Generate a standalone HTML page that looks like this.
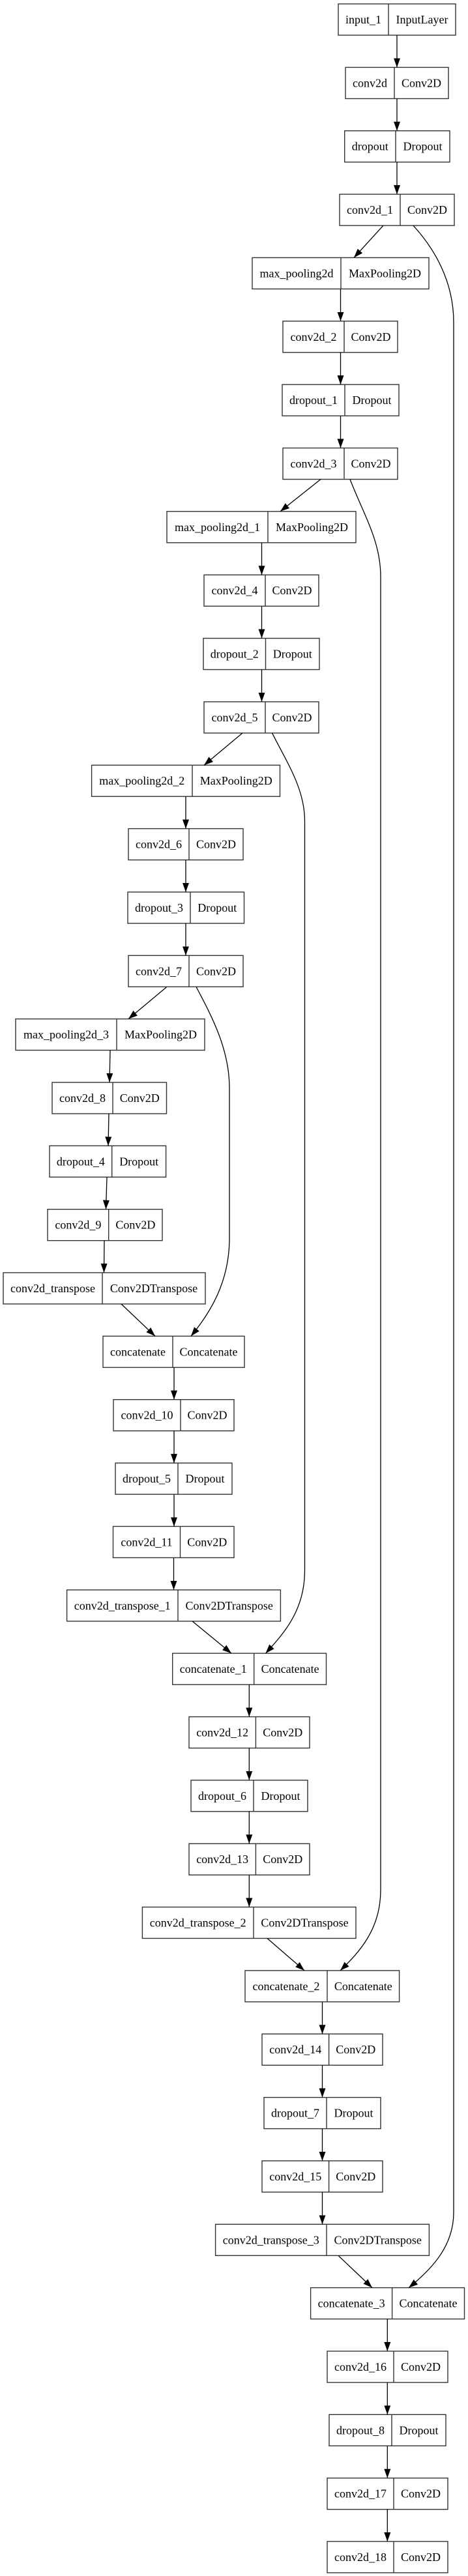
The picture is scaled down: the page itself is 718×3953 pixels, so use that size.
<!DOCTYPE html>
<html><head><meta charset="utf-8"><style>
html,body{margin:0;padding:0;background:#fff;}
svg{display:block;}
text{font-family:"Liberation Serif",serif;font-size:18px;fill:#000;text-anchor:middle;}
.b{fill:none;stroke:#333;stroke-width:1.4;}
.e{fill:none;stroke:#000;stroke-width:1.3;}
</style></head><body>
<svg width="718" height="3953" viewBox="0 0 718 3953" xmlns="http://www.w3.org/2000/svg">
<defs><marker id="a" markerUnits="userSpaceOnUse" markerWidth="14" markerHeight="10" refX="14" refY="5" orient="auto"><path d="M0,0 L14,5 L0,10 z" fill="#000"/></marker></defs>
<g class="nodes">
<rect class="b" x="519" y="6" width="180" height="48"/><line class="b" x1="596" y1="6" x2="596" y2="54"/><text x="557.5" y="36">input_1</text><text x="647.5" y="36">InputLayer</text>
<rect class="b" x="530" y="103.4" width="158" height="48"/><line class="b" x1="605" y1="103.4" x2="605" y2="151.4"/><text x="567.5" y="133.4">conv2d</text><text x="646.5" y="133.4">Conv2D</text>
<rect class="b" x="528.7" y="200.7" width="161.3" height="48"/><line class="b" x1="607" y1="200.7" x2="607" y2="248.7"/><text x="567.8" y="230.7">dropout</text><text x="648.5" y="230.7">Dropout</text>
<rect class="b" x="521" y="298.1" width="176" height="48"/><line class="b" x1="614" y1="298.1" x2="614" y2="346.1"/><text x="567.5" y="328.1">conv2d_1</text><text x="655.5" y="328.1">Conv2D</text>
<rect class="b" x="387" y="395.4" width="271" height="48"/><line class="b" x1="523" y1="395.4" x2="523" y2="443.4"/><text x="455" y="425.4">max_pooling2d</text><text x="590.5" y="425.4">MaxPooling2D</text>
<rect class="b" x="434" y="492.8" width="176" height="48"/><line class="b" x1="528" y1="492.8" x2="528" y2="540.8"/><text x="481" y="522.8">conv2d_2</text><text x="569" y="522.8">Conv2D</text>
<rect class="b" x="433" y="590.1" width="179" height="48"/><line class="b" x1="529" y1="590.1" x2="529" y2="638.1"/><text x="481" y="620.1">dropout_1</text><text x="570.5" y="620.1">Dropout</text>
<rect class="b" x="434" y="687.5" width="176" height="48"/><line class="b" x1="528" y1="687.5" x2="528" y2="735.5"/><text x="481" y="717.5">conv2d_3</text><text x="569" y="717.5">Conv2D</text>
<rect class="b" x="256" y="784.8" width="290" height="48"/><line class="b" x1="411" y1="784.8" x2="411" y2="832.8"/><text x="333.5" y="814.8">max_pooling2d_1</text><text x="478.5" y="814.8">MaxPooling2D</text>
<rect class="b" x="313" y="882.2" width="176" height="48"/><line class="b" x1="407" y1="882.2" x2="407" y2="930.2"/><text x="360" y="912.2">conv2d_4</text><text x="448" y="912.2">Conv2D</text>
<rect class="b" x="312" y="979.5" width="178" height="48"/><line class="b" x1="407.5" y1="979.5" x2="407.5" y2="1027.5"/><text x="359.8" y="1009.5">dropout_2</text><text x="448.8" y="1009.5">Dropout</text>
<rect class="b" x="313" y="1076.9" width="176" height="48"/><line class="b" x1="407" y1="1076.9" x2="407" y2="1124.9"/><text x="360" y="1106.9">conv2d_5</text><text x="448" y="1106.9">Conv2D</text>
<rect class="b" x="140.6" y="1174.2" width="288.9" height="48"/><line class="b" x1="295" y1="1174.2" x2="295" y2="1222.2"/><text x="217.8" y="1204.2">max_pooling2d_2</text><text x="362.3" y="1204.2">MaxPooling2D</text>
<rect class="b" x="197" y="1271.6" width="176" height="48"/><line class="b" x1="290" y1="1271.6" x2="290" y2="1319.6"/><text x="243.5" y="1301.6">conv2d_6</text><text x="331.5" y="1301.6">Conv2D</text>
<rect class="b" x="196" y="1368.9" width="178.5" height="48"/><line class="b" x1="292" y1="1368.9" x2="292" y2="1416.9"/><text x="244" y="1398.9">dropout_3</text><text x="333.3" y="1398.9">Dropout</text>
<rect class="b" x="197" y="1466.3" width="176" height="48"/><line class="b" x1="290" y1="1466.3" x2="290" y2="1514.3"/><text x="243.5" y="1496.3">conv2d_7</text><text x="331.5" y="1496.3">Conv2D</text>
<rect class="b" x="24" y="1563.6" width="290" height="48"/><line class="b" x1="179" y1="1563.6" x2="179" y2="1611.6"/><text x="101.5" y="1593.6">max_pooling2d_3</text><text x="246.5" y="1593.6">MaxPooling2D</text>
<rect class="b" x="80" y="1661" width="175.5" height="48"/><line class="b" x1="173" y1="1661" x2="173" y2="1709"/><text x="126.5" y="1691">conv2d_8</text><text x="214.3" y="1691">Conv2D</text>
<rect class="b" x="76" y="1758.3" width="178.6" height="48"/><line class="b" x1="171.7" y1="1758.3" x2="171.7" y2="1806.3"/><text x="123.9" y="1788.3">dropout_4</text><text x="213.2" y="1788.3">Dropout</text>
<rect class="b" x="73" y="1855.7" width="176" height="48"/><line class="b" x1="166.7" y1="1855.7" x2="166.7" y2="1903.7"/><text x="119.9" y="1885.7">conv2d_9</text><text x="207.9" y="1885.7">Conv2D</text>
<rect class="b" x="5" y="1953" width="310" height="48"/><line class="b" x1="157" y1="1953" x2="157" y2="2001"/><text x="81" y="1983">conv2d_transpose</text><text x="236" y="1983">Conv2DTranspose</text>
<rect class="b" x="158" y="2050.4" width="217" height="48"/><line class="b" x1="265" y1="2050.4" x2="265" y2="2098.4"/><text x="211.5" y="2080.4">concatenate</text><text x="320" y="2080.4">Concatenate</text>
<rect class="b" x="174" y="2147.7" width="185" height="48"/><line class="b" x1="277" y1="2147.7" x2="277" y2="2195.7"/><text x="225.5" y="2177.7">conv2d_10</text><text x="318" y="2177.7">Conv2D</text>
<rect class="b" x="177" y="2245.1" width="179" height="48"/><line class="b" x1="273" y1="2245.1" x2="273" y2="2293.1"/><text x="225" y="2275.1">dropout_5</text><text x="314.5" y="2275.1">Dropout</text>
<rect class="b" x="173.5" y="2342.4" width="185.5" height="48"/><line class="b" x1="276.5" y1="2342.4" x2="276.5" y2="2390.4"/><text x="225" y="2372.4">conv2d_11</text><text x="317.8" y="2372.4">Conv2D</text>
<rect class="b" x="102.6" y="2439.8" width="327.8" height="48"/><line class="b" x1="273" y1="2439.8" x2="273" y2="2487.8"/><text x="187.8" y="2469.8">conv2d_transpose_1</text><text x="351.7" y="2469.8">Conv2DTranspose</text>
<rect class="b" x="264.7" y="2537.1" width="235.8" height="48"/><line class="b" x1="389.7" y1="2537.1" x2="389.7" y2="2585.1"/><text x="327.2" y="2567.1">concatenate_1</text><text x="445.1" y="2567.1">Concatenate</text>
<rect class="b" x="290" y="2634.5" width="185" height="48"/><line class="b" x1="392.4" y1="2634.5" x2="392.4" y2="2682.5"/><text x="341.2" y="2664.5">conv2d_12</text><text x="433.7" y="2664.5">Conv2D</text>
<rect class="b" x="293" y="2731.8" width="179" height="48"/><line class="b" x1="389" y1="2731.8" x2="389" y2="2779.8"/><text x="341" y="2761.8">dropout_6</text><text x="430.5" y="2761.8">Dropout</text>
<rect class="b" x="290" y="2829.2" width="185" height="48"/><line class="b" x1="392.4" y1="2829.2" x2="392.4" y2="2877.2"/><text x="341.2" y="2859.2">conv2d_13</text><text x="433.7" y="2859.2">Conv2D</text>
<rect class="b" x="218.4" y="2926.5" width="327.6" height="48"/><line class="b" x1="389" y1="2926.5" x2="389" y2="2974.5"/><text x="303.7" y="2956.5">conv2d_transpose_2</text><text x="467.5" y="2956.5">Conv2DTranspose</text>
<rect class="b" x="376" y="3023.9" width="236.6" height="48"/><line class="b" x1="502" y1="3023.9" x2="502" y2="3071.9"/><text x="439" y="3053.9">concatenate_2</text><text x="557.3" y="3053.9">Concatenate</text>
<rect class="b" x="402" y="3121.2" width="185" height="48"/><line class="b" x1="504.6" y1="3121.2" x2="504.6" y2="3169.2"/><text x="453.3" y="3151.2">conv2d_14</text><text x="545.8" y="3151.2">Conv2D</text>
<rect class="b" x="405" y="3218.6" width="179" height="48"/><line class="b" x1="501" y1="3218.6" x2="501" y2="3266.6"/><text x="453" y="3248.6">dropout_7</text><text x="542.5" y="3248.6">Dropout</text>
<rect class="b" x="402" y="3315.9" width="185" height="48"/><line class="b" x1="504.6" y1="3315.9" x2="504.6" y2="3363.9"/><text x="453.3" y="3345.9">conv2d_15</text><text x="545.8" y="3345.9">Conv2D</text>
<rect class="b" x="330.6" y="3413.3" width="327.8" height="48"/><line class="b" x1="501" y1="3413.3" x2="501" y2="3461.3"/><text x="415.8" y="3443.3">conv2d_transpose_3</text><text x="579.7" y="3443.3">Conv2DTranspose</text>
<rect class="b" x="476.6" y="3510.6" width="235.9" height="48"/><line class="b" x1="601.6" y1="3510.6" x2="601.6" y2="3558.6"/><text x="539.1" y="3540.6">concatenate_3</text><text x="657" y="3540.6">Concatenate</text>
<rect class="b" x="502" y="3608" width="185" height="48"/><line class="b" x1="604" y1="3608" x2="604" y2="3656"/><text x="553" y="3638">conv2d_16</text><text x="645.5" y="3638">Conv2D</text>
<rect class="b" x="505" y="3705.3" width="179" height="48"/><line class="b" x1="601" y1="3705.3" x2="601" y2="3753.3"/><text x="553" y="3735.3">dropout_8</text><text x="642.5" y="3735.3">Dropout</text>
<rect class="b" x="502" y="3802.7" width="185" height="48"/><line class="b" x1="604" y1="3802.7" x2="604" y2="3850.7"/><text x="553" y="3832.7">conv2d_17</text><text x="645.5" y="3832.7">Conv2D</text>
<rect class="b" x="502" y="3900" width="185" height="48"/><line class="b" x1="604" y1="3900" x2="604" y2="3948"/><text x="553" y="3930">conv2d_18</text><text x="645.5" y="3930">Conv2D</text>
</g>
<g marker-end="url(#a)">
<path class="e" d="M609,54 L609,103.4"/>
<path class="e" d="M609,151.4 L609,200.7"/>
<path class="e" d="M609,248.7 L609,298.1"/>
<path class="e" d="M588,346.1 L543,395.4"/>
<path class="e" d="M522.5,443.4 L522.5,492.8"/>
<path class="e" d="M522.5,540.8 L522.5,590.1"/>
<path class="e" d="M522.5,638.1 L522.5,687.5"/>
<path class="e" d="M492,735.5 L430,784.8"/>
<path class="e" d="M401.5,832.8 L401.5,882.2"/>
<path class="e" d="M401.5,930.2 L401.5,979.5"/>
<path class="e" d="M401.5,1027.5 L401.5,1076.9"/>
<path class="e" d="M372,1124.9 L313,1174.2"/>
<path class="e" d="M285,1222.2 L285,1271.6"/>
<path class="e" d="M285,1319.6 L285,1368.9"/>
<path class="e" d="M285,1416.9 L285,1466.3"/>
<path class="e" d="M256,1514.3 L197,1563.6"/>
<path class="e" d="M169,1611.6 L168,1661"/>
<path class="e" d="M167,1709 L166,1758.3"/>
<path class="e" d="M164,1806.3 L162.5,1855.7"/>
<path class="e" d="M160,1903.7 L159.5,1953"/>
<path class="e" d="M186,2001 L238,2050.4"/>
<path class="e" d="M267,2098.4 L267,2147.7"/>
<path class="e" d="M267,2195.7 L267,2245.1"/>
<path class="e" d="M267,2293.1 L267,2342.4"/>
<path class="e" d="M266.5,2390.4 L266.5,2439.8"/>
<path class="e" d="M295,2487.8 L355,2537.1"/>
<path class="e" d="M382.3,2585.1 L382.3,2634.5"/>
<path class="e" d="M382.3,2682.5 L382.3,2731.8"/>
<path class="e" d="M382.3,2779.8 L382.3,2829.2"/>
<path class="e" d="M382.3,2877.2 L382.3,2926.5"/>
<path class="e" d="M410,2974.5 L467,3023.9"/>
<path class="e" d="M494.5,3071.9 L494.5,3121.2"/>
<path class="e" d="M494.5,3169.2 L494.5,3218.6"/>
<path class="e" d="M494.5,3266.6 L494.5,3315.9"/>
<path class="e" d="M494.5,3363.9 L494.5,3413.3"/>
<path class="e" d="M519,3461.3 L571,3510.6"/>
<path class="e" d="M594.3,3558.6 L594.3,3608"/>
<path class="e" d="M594.3,3656 L594.3,3705.3"/>
<path class="e" d="M594.3,3753.3 L594.3,3802.7"/>
<path class="e" d="M594.3,3850.7 L594.3,3900"/>
<path class="e" d="M634,346.1 C665,380 696,430 696,495 L696,3395 C696,3445 665,3480 627,3510.6"/>
<path class="e" d="M537,735.5 C558,790 584,830 584,885 L584,2900 C584,2960 552,2995 522,3023.9"/>
<path class="e" d="M417.6,1124.9 C440,1170 467.5,1210 467.5,1260 L467.5,2410 C467.5,2470 437,2505 407.5,2537.1"/>
<path class="e" d="M301,1514.3 C325,1560 352,1610 352,1670 L352,1900 C352,1968 322,2015 293,2050.4"/>
</g>
</svg>
</body></html>
